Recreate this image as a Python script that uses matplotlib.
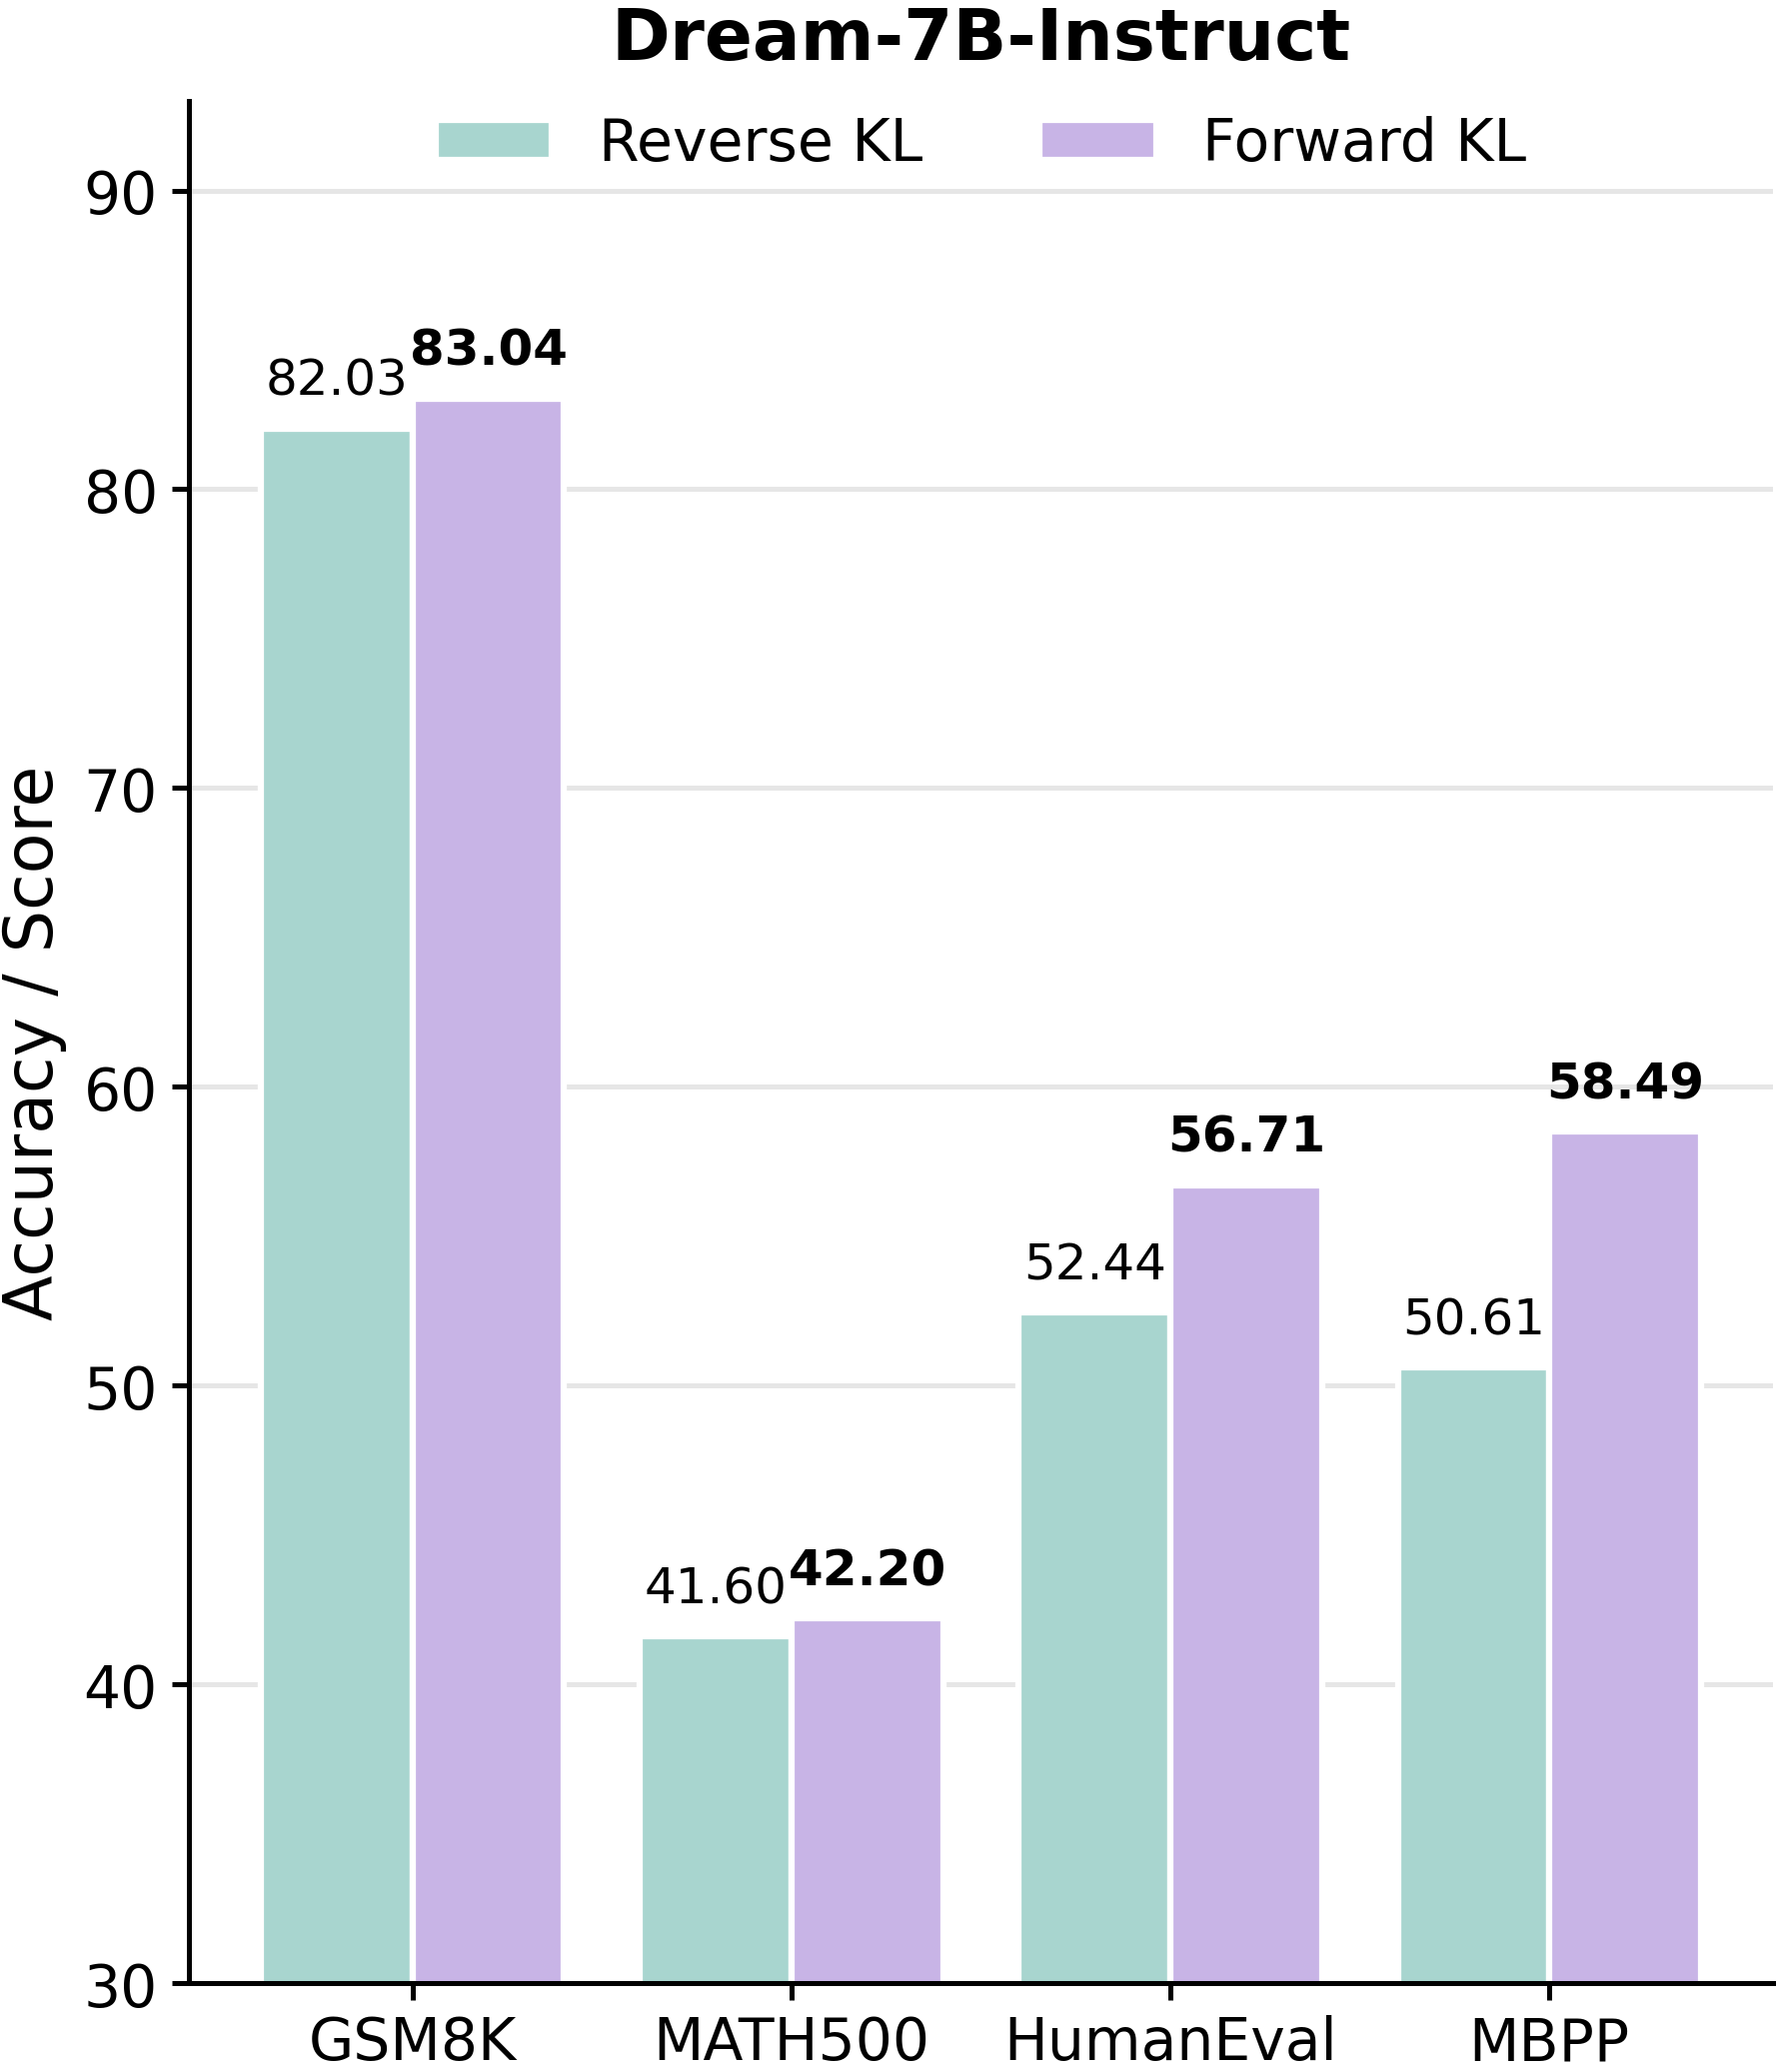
import numpy as np
import matplotlib
matplotlib.use("Agg")
import matplotlib.pyplot as plt

# values
benchmarks = ["GSM8K", "MATH500", "HumanEval", "MBPP"]
reverse_kl = [82.03, 41.60, 52.44, 50.61]
forward_kl = [83.04, 42.20, 56.71, 58.49]
series_names = ["Reverse KL", "Forward KL"]

fig = plt.figure(figsize=(5.95, 6.9133), dpi=300)
ax = fig.add_axes([0.1059, 0.0429, 0.8879, 0.9080])

x = np.arange(len(benchmarks))
w = 0.4
colors = ["#a8d5cf", "#c8b4e6"]

bars_r = ax.bar(x - w / 2, reverse_kl, w, color=colors[0], edgecolor="white",
                linewidth=1.5, label=series_names[0], zorder=3)
bars_f = ax.bar(x + w / 2, forward_kl, w, color=colors[1], edgecolor="white",
                linewidth=1.5, label=series_names[1], zorder=3)

# value labels, best one in bold
for i in range(len(benchmarks)):
    r, f = reverse_kl[i], forward_kl[i]
    for xpos, v, other in [(x[i] - w / 2, r, f), (x[i] + w / 2, f, r)]:
        ax.text(xpos, v + 0.8, f"{v:.2f}", ha="center", va="bottom", fontsize=12,
                fontweight="bold" if v > other else "normal", zorder=4)

ax.set_ylim(30, 93)
ax.set_yticks(np.arange(30, 91, 10))
ax.set_xticks(x)
ax.set_xticklabels(benchmarks, fontsize=14)
ax.tick_params(axis="y", labelsize=14)
ax.tick_params(width=1.2, length=4)
ax.set_ylabel("Accuracy / Score", fontsize=16)
ax.set_title("Dream-7B-Instruct", fontsize=17, fontweight="bold", pad=10)

ax.yaxis.grid(True, color="#e6e6e6", linewidth=1.2, zorder=0)
ax.set_axisbelow(True)
ax.spines["top"].set_visible(False)
ax.spines["right"].set_visible(False)
for side in ["left", "bottom"]:
    ax.spines[side].set_linewidth(1.2)
    ax.spines[side].set_zorder(5)

ax.legend(loc="upper center", ncol=2, frameon=False, fontsize=14,
          columnspacing=2.0, borderaxespad=-0.15)

fig.savefig("out.png", dpi=300)
